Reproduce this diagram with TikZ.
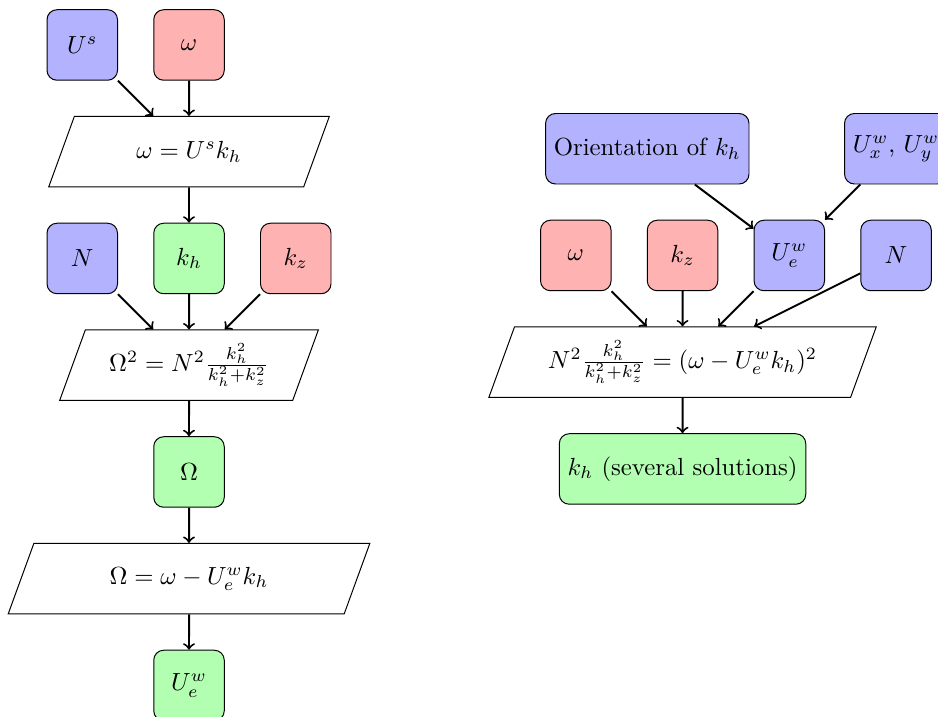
\documentclass[tikz,border=0pt]{standalone}
\usepackage{amsmath, amssymb}
\usetikzlibrary{positioning, shapes.geometric}

\begin{document}
\begin{tikzpicture}[node distance=0.5cm,
  param/.style={draw, rounded corners, minimum size=1cm},
  known/.style={param, fill=blue!30},
  chosen/.style={param, fill=red!30},
  found/.style={param, fill=green!30},
  relation/.style={draw, trapezium, trapezium left angle=70, trapezium right angle=110, minimum height=1cm},
  flow/.style={->, thick}]
  \useasboundingbox (-2.681,0.638) rectangle (10.624,-9.518);

  % left chain
  \node (om) [chosen] at (0,0) {$\omega$};
  \node (us) [known, left=of om] {$U^s$};
  \node (eqa) [relation, below=of om] {$\omega = U^s k_h$};
  \node (kh) [found, below=of eqa] {$k_h$};
  \node (n) [known, left=of kh] {$N$};
  \node (kz) [chosen, right=of kh] {$k_z$};
  \node (eqb) [relation, below=of kh] {$\Omega^2 = N^2 \frac{k_h^2}{k_h^2+k_z^2}$};
  \node (bigom) [found, below=of eqb] {$\Omega$};
  \node (eqc) [relation, below=of bigom] {$\Omega = \omega - U_e^w k_h$};
  \node (uew) [found, below=of eqc] {$U_e^w$};

  \draw[flow] (us) -- (eqa);
  \draw[flow] (om) -- (eqa);
  \draw[flow] (eqa) -- (kh);
  \draw[flow] (n) -- (eqb);
  \draw[flow] (kh) -- (eqb);
  \draw[flow] (kz) -- (eqb);
  \draw[flow] (eqb) -- (bigom);
  \draw[flow] (bigom) -- (eqc);
  \draw[flow] (eqc) -- (uew);

  % right chain
  \node (eqr) [relation] at (7,-4.5) {$N^2 \frac{k_h^2}{k_h^2+k_z^2} = (\omega - U_e^w k_h)^2$};
  \node (rkz) [chosen, above=of eqr] {$k_z$};
  \node (rom) [chosen, left=of rkz] {$\omega$};
  \node (ruew) [known, right=of rkz] {$U_e^w$};
  \node (rn) [known, right=of ruew] {$N$};
  \node (orient) [known, above=of rkz, xshift=-0.5cm] {Orientation of $k_h$};
  \node (uxy) [known, above=of rn] {$U_x^w$, $U_y^w$};
  \node (rkh) [found, below=of eqr] {$k_h$ (several solutions)};

  \draw[flow] (orient) -- (ruew);
  \draw[flow] (uxy) -- (ruew);
  \draw[flow] (rom) -- (eqr);
  \draw[flow] (rkz) -- (eqr);
  \draw[flow] (ruew) -- (eqr);
  \draw[flow] (rn) -- (eqr);
  \draw[flow] (eqr) -- (rkh);
\end{tikzpicture}
\end{document}
